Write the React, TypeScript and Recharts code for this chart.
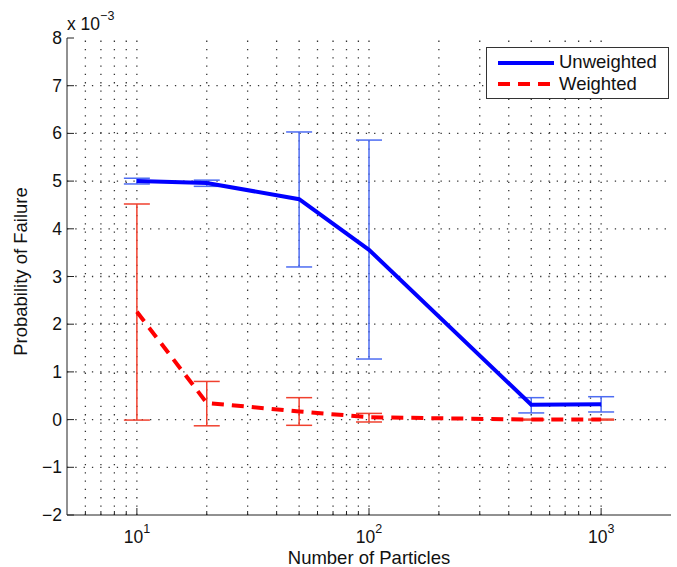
import { ErrorBar, Line, LineChart, ReferenceLine, XAxis, YAxis } from "recharts"

// values are in units of 1e-3 (the axis carries the "x 10^-3" multiplier)
const particles = [10, 20, 50, 100, 500, 1000]
const unweighted = [5.0, 4.96, 4.62, 3.56, 0.31, 0.32]
const unweightedLow = [4.94, 4.89, 3.2, 1.27, 0.14, 0.16]
const unweightedHigh = [5.06, 5.02, 6.03, 5.86, 0.46, 0.48]
const weighted = [2.26, 0.35, 0.17, 0.05, 0.0, 0.0]
const weightedLow = [-0.01, -0.13, -0.12, -0.05, -0.01, -0.01]
const weightedHigh = [4.52, 0.8, 0.46, 0.13, 0.01, 0.01]

const xTicks = [6, 7, 8, 9, 10, 20, 30, 40, 50, 60, 70, 80, 90, 100, 200, 300, 400, 500, 600, 700, 800, 900, 1000]
const xMajor = [10, 100, 1000]
const yTicks = [-2, -1, 0, 1, 2, 3, 4, 5, 6, 7, 8]
const yGrid = [-1, 0, 1, 2, 3, 4, 5, 6, 7]

const data = particles.map((n, i) => ({
  n,
  unweighted: unweighted[i],
  unweightedErr: [unweighted[i] - unweightedLow[i], unweightedHigh[i] - unweighted[i]],
  weighted: weighted[i],
  weightedErr: [weighted[i] - weightedLow[i], weightedHigh[i] - weighted[i]],
}))

const font = "'Liberation Sans', Arial, sans-serif"
const axisColor = "#222"
const gridStyle = { stroke: "#333", strokeDasharray: "1.3 7", strokeWidth: 1.3 }

function BottomTick(props: any) {
  const { x, y, payload } = props
  const major = xMajor.includes(payload.value)
  return (
    <g>
      <line x1={x} x2={x} y1={y} y2={y - (major ? 7 : 4)} stroke={axisColor} />
      {major && (
        <text x={x} y={y + 28} textAnchor="middle" fontFamily={font} fontSize={17.5} fill="#111">
          <tspan>10</tspan>
          <tspan dy={-10} fontSize={12.5}>
            {Math.round(Math.log10(payload.value))}
          </tspan>
        </text>
      )}
    </g>
  )
}

function TopTick(props: any) {
  const { x, y, payload } = props
  const major = xMajor.includes(payload.value)
  return <line x1={x} x2={x} y1={y} y2={y + (major ? 7 : 4)} stroke={axisColor} />
}

function LeftTick(props: any) {
  const { x, y, payload } = props
  const v = payload.value
  return (
    <g>
      <line x1={x} x2={x + 7} y1={y} y2={y} stroke={axisColor} />
      <text x={x - 5} y={y + 6} textAnchor="end" fontFamily={font} fontSize={17.5} fill="#111">
        {v < 0 ? `\u2212${-v}` : v}
      </text>
    </g>
  )
}

function RightTick(props: any) {
  const { x, y } = props
  return <line x1={x} x2={x - 7} y1={y} y2={y} stroke={axisColor} />
}

function YLabel(props: any) {
  const { viewBox } = props
  const cy = viewBox.y + viewBox.height / 2 - 5
  return (
    <g>
      <text
        x={27}
        y={cy}
        transform={`rotate(-90, 27, ${cy})`}
        textAnchor="middle"
        fontFamily={font}
        fontSize={18.5}
        fill="#111"
      >
        Probability of Failure
      </text>
      <text x={viewBox.x + viewBox.width} y={30} fontFamily={font} fontSize={17.5} fill="#111">
        <tspan>x 10</tspan>
        <tspan dy={-10} fontSize={12.5}>
          {"\u22123"}
        </tspan>
      </text>
    </g>
  )
}

function Legend() {
  return (
    <div
      style={{
        position: "absolute",
        left: 486,
        top: 47,
        width: 183,
        height: 52,
        border: "1px solid #333",
        background: "#fff",
        boxSizing: "border-box",
        fontFamily: font,
        fontSize: 18.5,
        color: "#111",
      }}
    >
      <svg width={70} height={52} style={{ position: "absolute", left: 0, top: 0 }}>
        <line x1={11} x2={67} y1={15} y2={15} stroke="#0000ff" strokeWidth={4} />
        <line x1={11} x2={67} y1={36} y2={36} stroke="#ff0000" strokeWidth={4} strokeDasharray="12 8" />
      </svg>
      <div style={{ position: "absolute", left: 72, top: 3 }}>Unweighted</div>
      <div style={{ position: "absolute", left: 72, top: 25 }}>Weighted</div>
    </div>
  )
}

export default function App() {
  return (
    <div style={{ position: "absolute", left: 0, top: 0, width: 677, height: 567, background: "#fff" }}>
      <LineChart width={677} height={567} data={data} margin={{ top: 38, right: 6, bottom: 0, left: 0 }}>
        {xTicks.map((t) => (
          <ReferenceLine key={`vx${t}`} x={t} xAxisId="b" yAxisId="l" {...gridStyle} />
        ))}
        {yGrid.map((t) => (
          <ReferenceLine key={`hy${t}`} y={t} xAxisId="b" yAxisId="l" {...gridStyle} />
        ))}
        <XAxis
          xAxisId="b"
          dataKey="n"
          type="number"
          scale="log"
          domain={[5, 2000]}
          allowDataOverflow
          ticks={xTicks}
          interval={0}
          tickSize={0}
          tickMargin={0}
          tickLine={false}
          tick={<BottomTick />}
          axisLine={{ stroke: axisColor }}
          height={52}
          label={{
            value: "Number of Particles",
            position: "insideBottom",
            offset: 3,
            fontFamily: font,
            fontSize: 18.5,
            fill: "#111",
          }}
        />
        <XAxis
          xAxisId="t"
          orientation="top"
          type="number"
          scale="log"
          domain={[5, 2000]}
          allowDataOverflow
          ticks={xTicks}
          interval={0}
          tickSize={0}
          tickMargin={0}
          tickLine={false}
          tick={<TopTick />}
          axisLine={{ stroke: axisColor }}
          height={0}
        />
        <YAxis
          yAxisId="l"
          type="number"
          domain={[-2, 8]}
          allowDataOverflow
          ticks={yTicks}
          interval={0}
          tickSize={0}
          tickMargin={0}
          tickLine={false}
          tick={<LeftTick />}
          axisLine={{ stroke: axisColor }}
          width={67}
          label={{ content: <YLabel /> }}
        />
        <YAxis
          yAxisId="r"
          orientation="right"
          type="number"
          domain={[-2, 8]}
          allowDataOverflow
          ticks={yTicks}
          interval={0}
          tickSize={0}
          tickMargin={0}
          tickLine={false}
          tick={<RightTick />}
          axisLine={{ stroke: axisColor }}
          width={0}
        />
        <Line
          xAxisId="b"
          yAxisId="l"
          dataKey="unweighted"
          type="linear"
          stroke="#0000ff"
          strokeWidth={4}
          dot={false}
          isAnimationActive={false}
        >
          <ErrorBar dataKey="unweightedErr" direction="y" width={13} stroke="#4d6cf2" strokeWidth={1.5} />
        </Line>
        <Line
          xAxisId="b"
          yAxisId="l"
          dataKey="weighted"
          type="linear"
          stroke="#ff0000"
          strokeWidth={4}
          strokeDasharray="12 8"
          dot={false}
          isAnimationActive={false}
        >
          <ErrorBar dataKey="weightedErr" direction="y" width={13} stroke="#f0402e" strokeWidth={1.5} />
        </Line>
      </LineChart>
      <Legend />
    </div>
  )
}
